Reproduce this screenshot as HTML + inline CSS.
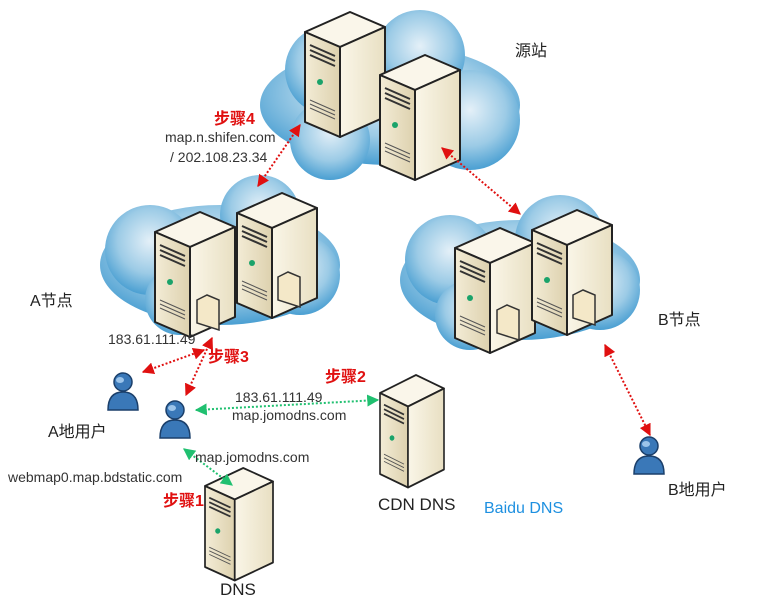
<!DOCTYPE html>
<html><head><meta charset="utf-8"><style>
body{margin:0;background:#fff;width:768px;height:604px;overflow:hidden}
svg text{font-family:"Liberation Sans","Noto Sans CJK SC",sans-serif}
</style></head><body>
<svg width="768" height="604" viewBox="0 0 768 604" xmlns="http://www.w3.org/2000/svg">
<defs>
<radialGradient id="cg" cx="50%" cy="40%" r="60%">
<stop offset="0" stop-color="#e4f0f8"/><stop offset="0.6" stop-color="#9ccbe6"/><stop offset="1" stop-color="#4a9fd2"/></radialGradient>
<linearGradient id="fr" x1="0" x2="1"><stop offset="0" stop-color="#f3ecd6"/><stop offset="1" stop-color="#ddd1ae"/></linearGradient>
<linearGradient id="sd" x1="0" x2="1"><stop offset="0" stop-color="#faf6e8"/><stop offset="1" stop-color="#e8dfc2"/></linearGradient>
<g id="srv">
<polygon points="0,20 45,0 80,15 35,35" fill="#faf6ea" stroke="#222" stroke-width="2" stroke-linejoin="round"/>
<polygon points="0,20 35,35 35,125 0,110" fill="url(#fr)" stroke="#222" stroke-width="2" stroke-linejoin="round"/>
<polygon points="35,35 80,15 80,105 35,125" fill="url(#sd)" stroke="#222" stroke-width="2" stroke-linejoin="round"/>
<path d="M5,33 L30,44 M5,38 L30,49 M5,43 L30,54" stroke="#333" stroke-width="2"/>
<circle cx="15" cy="70" r="3" fill="#1aa36a"/>
<path d="M5,88 L30,99 M5,92 L30,103 M5,96 L30,107" stroke="#555" stroke-width="1"/>
</g>
<g id="fold"><polygon points="0,5 10,0 22,5 22,35 0,28" fill="#f4e8c8" stroke="#333" stroke-width="1.5"/></g>
<g id="usr">
<circle cx="17" cy="10" r="9" fill="#3a78b8" stroke="#1b3f6a" stroke-width="1.5"/>
<path d="M2,38 Q2,20 17,20 Q32,20 32,38 Z" fill="#3a78b8" stroke="#1b3f6a" stroke-width="1.5"/>
<ellipse cx="14" cy="8" rx="4" ry="3" fill="#9cc4ea"/>
</g>
<marker id="ar" viewBox="0 0 10 10" refX="9" refY="5" markerWidth="6" markerHeight="6" orient="auto-start-reverse"><path d="M0,0 L10,5 L0,10Z" fill="#e01010"/></marker>
<marker id="ag" viewBox="0 0 10 10" refX="9" refY="5" markerWidth="6" markerHeight="6" orient="auto-start-reverse"><path d="M0,0 L10,5 L0,10Z" fill="#20c070"/></marker>
</defs>
<!-- clouds -->
<g fill="url(#cg)">
<ellipse cx="390" cy="105" rx="130" ry="60"/><circle cx="330" cy="70" r="45"/><circle cx="420" cy="55" r="45"/><circle cx="470" cy="120" r="50"/><circle cx="330" cy="140" r="40"/>
<ellipse cx="220" cy="265" rx="120" ry="60"/><circle cx="150" cy="250" r="45"/><circle cx="260" cy="215" r="40"/><circle cx="300" cy="275" r="40"/><circle cx="180" cy="300" r="35"/>
<ellipse cx="520" cy="280" rx="120" ry="60"/><circle cx="450" cy="260" r="45"/><circle cx="560" cy="240" r="45"/><circle cx="600" cy="290" r="40"/><circle cx="470" cy="315" r="35"/>
</g>
<!-- servers -->
<use href="#srv" x="305" y="12" width="80" height="125"/>
<use href="#srv" x="380" y="55"/>
<use href="#srv" x="155" y="212"/>
<use href="#fold" x="197" y="295"/>
<use href="#srv" x="237" y="193"/>
<use href="#fold" x="278" y="272"/>
<use href="#srv" x="455" y="228"/>
<use href="#fold" x="497" y="305"/>
<use href="#srv" x="532" y="210"/>
<use href="#fold" x="573" y="290"/>
<g transform="translate(380,375) scale(0.8,0.9)"><use href="#srv"/></g>
<g transform="translate(205,468) scale(0.85,0.9)"><use href="#srv"/></g>
<use href="#usr" x="106" y="372"/>
<use href="#usr" x="158" y="400"/>
<use href="#usr" x="632" y="436"/>
<!-- connectors -->
<g stroke-width="2" stroke-dasharray="2,2" fill="none">
<line x1="258" y1="186" x2="300" y2="125" stroke="#e01010" marker-start="url(#ar)" marker-end="url(#ar)"/>
<line x1="442" y1="148" x2="520" y2="214" stroke="#e01010" marker-start="url(#ar)" marker-end="url(#ar)"/>
<line x1="212" y1="338" x2="186" y2="395" stroke="#e01010" marker-start="url(#ar)" marker-end="url(#ar)"/>
<line x1="143" y1="372" x2="204" y2="350" stroke="#e01010" marker-start="url(#ar)" marker-end="url(#ar)"/>
<line x1="605" y1="345" x2="650" y2="435" stroke="#e01010" marker-start="url(#ar)" marker-end="url(#ar)"/>
<line x1="196" y1="410" x2="378" y2="400" stroke="#20c070" marker-start="url(#ag)" marker-end="url(#ag)"/>
<line x1="184" y1="449" x2="232" y2="485" stroke="#20c070" marker-start="url(#ag)" marker-end="url(#ag)"/>
</g>
<!-- labels -->
<g font-size="16" fill="#222">
<text x="515" y="56">源站</text>
<text x="30" y="306">A节点</text>
<text x="658" y="325">B节点</text>
<text x="48" y="437">A地用户</text>
<text x="668" y="495">B地用户</text>
<text x="378" y="510" font-size="17">CDN DNS</text>
<text x="220" y="595" font-size="17">DNS</text>
</g>
<text x="484" y="513" font-size="16" fill="#1e90e0">Baidu DNS</text>
<g font-size="14" fill="#333">
<text x="165" y="142">map.n.shifen.com</text>
<text x="170" y="162">/ 202.108.23.34</text>
<text x="108" y="344">183.61.111.49</text>
<text x="235" y="402">183.61.111.49</text>
<text x="232" y="420">map.jomodns.com</text>
<text x="195" y="462">map.jomodns.com</text>
<text x="8" y="482">webmap0.map.bdstatic.com</text>
</g>
<g font-size="16" fill="#e01010" font-weight="bold">
<text x="214" y="124">步骤4</text>
<text x="208" y="362">步骤3</text>
<text x="325" y="382">步骤2</text>
<text x="163" y="506">步骤1</text>
</g>
</svg>
</body></html>
